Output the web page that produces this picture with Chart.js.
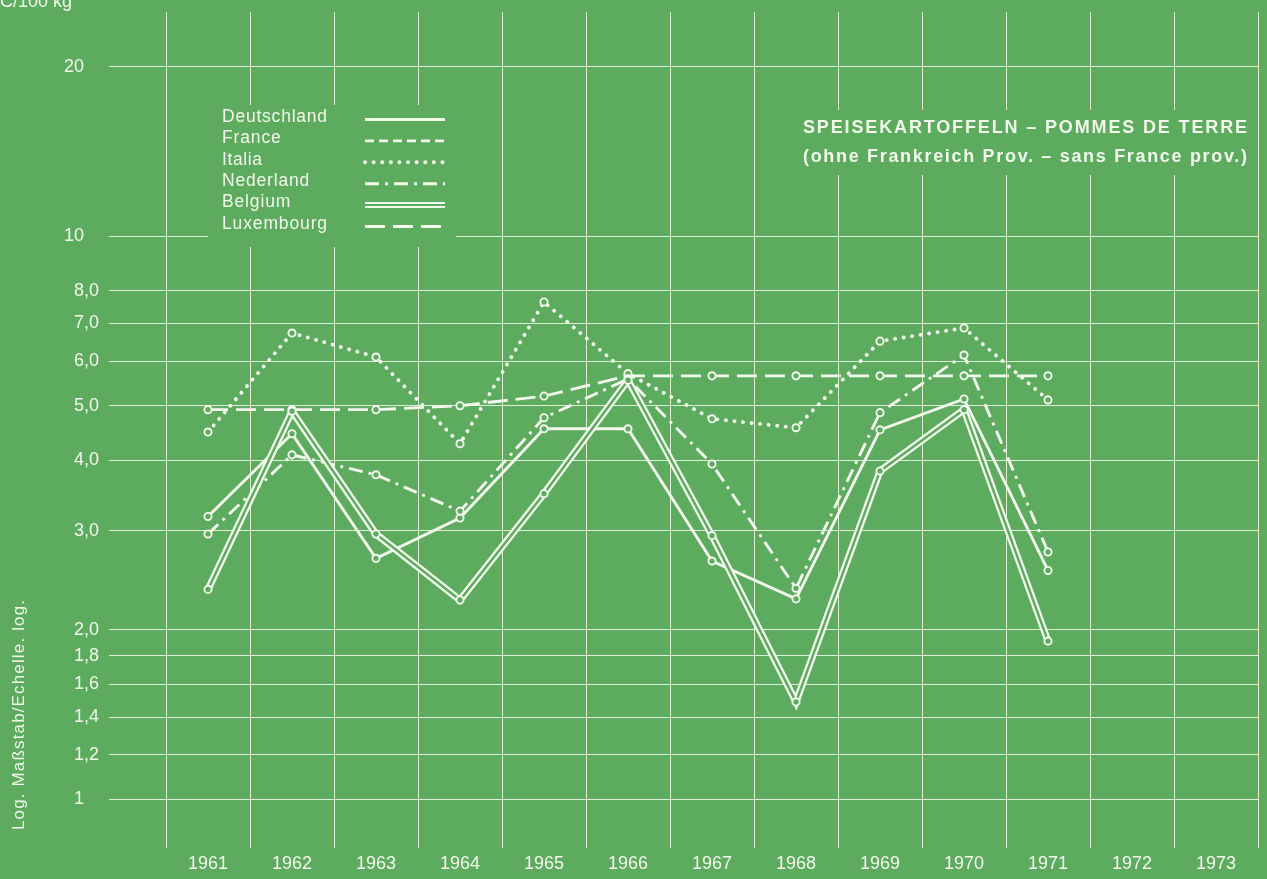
<!DOCTYPE html>
<html>
<head>
<meta charset="utf-8">
<script src="https://cdn.jsdelivr.net/npm/chart.js@4.4.1/dist/chart.umd.min.js"></script>
<style>
  html, body { margin: 0; padding: 0; background: #5cab5f; }
  canvas { display: block; }
</style>
</head>
<body>
<canvas id="chart" width="1267" height="879"></canvas>
<script>
// Speisekartoffeln - Pommes de terre, UC/100 kg (log scale)
const years = ['1961', '1962', '1963', '1964', '1965', '1966', '1967', '1968', '1969', '1970', '1971', '1972', '1973'];

const deutschland = [3.18, 4.46, 2.68, 3.16, 4.55, 4.55, 2.65, 2.27, 4.53, 5.14, 2.55];
const france = [];
const italia = [4.49, 6.73, 6.10, 4.28, 7.64, 5.70, 4.74, 4.57, 6.51, 6.87, 5.12];
const nederland = [2.96, 4.09, 3.77, 3.25, 4.76, 5.58, 3.94, 2.37, 4.86, 6.15, 2.75];
const belgium = [2.36, 4.89, 2.96, 2.26, 3.49, 5.55, 2.94, 1.49, 3.83, 4.92, 1.91];
const luxembourg = [4.92, 4.92, 4.92, 5.00, 5.20, 5.65, 5.65, 5.65, 5.65, 5.65, 5.65];

const yTickValues = [1, 1.2, 1.4, 1.6, 1.8, 2, 3, 4, 5, 6, 7, 8, 10, 20];
const yTickLabels = ['1 \u2007', '1,2', '1,4', '1,6', '1,8', '2,0', '3,0', '4,0', '5,0', '6,0', '7,0', '8,0', '10 \u2007', '20 \u2007'];

const bg = '#5cab5f';
const ink = '#f3f8ec';
const gridInk = 'rgba(236,246,228,0.9)';
const family = '"Liberation Sans", Arial, sans-serif';

function series(label, data, extra) {
  return Object.assign({
    label: label,
    data: data,
    borderColor: ink,
    borderWidth: 2.9,
    pointRadius: 3.6,
    pointBorderWidth: 1.9,
    pointBorderColor: ink,
    pointBackgroundColor: bg,
    tension: 0,
    fill: false
  }, extra);
}

const datasets = [
  series('Deutschland', deutschland, { order: 3 }),
  series('France', france, { borderDash: [9, 5], order: 4 }),
  series('Italia', italia, { borderDash: [0.1, 8.5], borderCapStyle: 'round', borderWidth: 3.9, order: 5 }),
  series('Nederland', nederland, { borderDash: [14, 6, 3, 6], order: 2 }),
  // Belgium: double line = wide white stroke with a thin green core
  series('Belgium', belgium, { borderWidth: 7, pointRadius: 0, order: 1, double: true }),
  series('', belgium, { borderColor: bg, borderWidth: 2.4, order: 0, helper: true }),
  series('Luxembourg', luxembourg, { borderDash: [20, 8], order: 6 })
];

function fitText(ctx, text, x, y, width) {
  ctx.letterSpacing = '0px';
  const w = ctx.measureText(text).width;
  const n = [...text].length;
  ctx.letterSpacing = ((width - w) / (n - 1)) + 'px';
  ctx.fillText(text, x, y);
  ctx.letterSpacing = '0px';
}

const overlay = {
  id: 'overlay',
  beforeDraw(chart) {
    const ctx = chart.ctx;
    ctx.save();
    ctx.fillStyle = bg;
    ctx.fillRect(0, 0, chart.width, chart.height);
    ctx.restore();
  },
  afterDraw(chart) {
    const ctx = chart.ctx;
    ctx.save();
    // panels that blank the grid behind legend and title
    ctx.fillStyle = bg;
    ctx.fillRect(208, 105, 248, 142);
    ctx.fillRect(795, 110, 458, 65);

    ctx.fillStyle = ink;
    ctx.strokeStyle = ink;

    // unit, partly cut off at the top left
    ctx.font = '18px ' + family;
    ctx.textAlign = 'left';
    ctx.textBaseline = 'alphabetic';
    ctx.fillText('UC/100 kg', -ctx.measureText('U').width, 7);

    // legend
    ctx.textBaseline = 'middle';
    const items = chart.data.datasets.filter(d => !d.helper);
    items.forEach((d, i) => {
      const ty = 117 + i * 21.4;
      const ly = ty + 2.5;
      ctx.font = '17.5px ' + family;
      fitText(ctx, d.label, 222, ty, ctx.measureText(d.label).width * 1.08);
      ctx.lineCap = d.borderCapStyle || 'butt';
      ctx.setLineDash(d.borderDash || []);
      if (d.double) {
        ctx.lineWidth = 2;
        [ly - 2, ly + 2].forEach(yy => {
          ctx.beginPath(); ctx.moveTo(365, yy); ctx.lineTo(445, yy); ctx.stroke();
        });
      } else {
        ctx.lineWidth = d.borderWidth;
        ctx.beginPath(); ctx.moveTo(365, ly); ctx.lineTo(445, ly); ctx.stroke();
      }
    });
    ctx.setLineDash([]);
    ctx.lineCap = 'butt';

    // title block
    ctx.font = 'bold 18px ' + family;
    fitText(ctx, 'SPEISEKARTOFFELN \u2013 POMMES DE TERRE', 803, 128.5, 444);
    fitText(ctx, '(ohne Frankreich Prov. \u2013 sans France prov.)', 803, 157, 444);

    // vertical axis note
    ctx.font = '17px ' + family;
    ctx.translate(19, 830);
    ctx.rotate(-Math.PI / 2);
    fitText(ctx, 'Log. Ma\u00dfstab/Echelle. log.', 0, 0, 230);
    ctx.restore();
  }
};

new Chart(document.getElementById('chart'), {
  type: 'line',
  data: { labels: years, datasets: datasets },
  options: {
    responsive: false,
    animation: false,
    layout: { padding: { top: 12, right: 9, left: 0, bottom: 0 } },
    plugins: {
      legend: { display: false },
      tooltip: { enabled: false }
    },
    scales: {
      x: {
        type: 'category',
        offset: true,
        grid: { offset: true, color: gridInk, lineWidth: 1, drawTicks: false },
        border: { display: false },
        ticks: {
          color: ink,
          font: { family: family, size: 18 },
          padding: 5,
          maxRotation: 0,
          autoSkip: false
        },
        afterFit(scale) {
          scale.height = 31;
          scale.paddingLeft = 0;
          scale.paddingRight = 0;
        }
      },
      y: {
        type: 'logarithmic',
        min: 0.82,
        max: 25,
        afterBuildTicks(scale) {
          scale.ticks = yTickValues.map(v => ({ value: v }));
        },
        afterFit(scale) {
          scale.width = 166;
          scale.paddingTop = 0;
          scale.paddingBottom = 0;
        },
        grid: { color: gridInk, lineWidth: 1, drawTicks: true, tickLength: 57, tickColor: gridInk },
        border: { display: false },
        ticks: {
          color: ink,
          font: { family: family, size: 18 },
          padding: 10,
          autoSkip: false,
          callback: (v, i) => yTickLabels[i]
        }
      }
    }
  },
  plugins: [overlay]
});
</script>
</body>
</html>
